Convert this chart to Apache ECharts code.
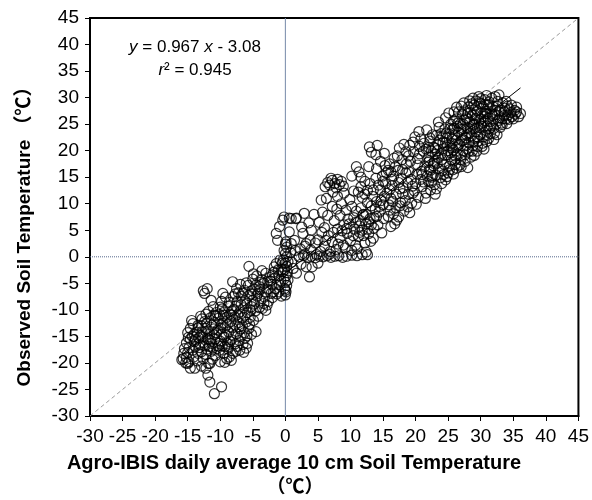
<!DOCTYPE html>
<html>
<head>
<meta charset="utf-8">
<script src="https://cdn.jsdelivr.net/npm/echarts@6/dist/echarts.min.js"></script>
<style>html,body{margin:0;padding:0;background:#fff;}#chart{width:592px;height:500px;}</style>
</head>
<body>
<div id="chart"></div>
<script>
// ---- data ----
const xTitle = 'Agro-IBIS daily average 10 cm Soil Temperature';
const unitText = '（℃）';
const yTitle = 'Observed Soil Temperature （℃）';
const slope = 0.967;
const intercept = -3.08;
const r2 = 0.945;
const axisMin = -30, axisMax = 45, axisStep = 5;

const lowLeftCluster = [
[-15.2,-19.0],[-14.8,-19.8],[-14.1,-18.9],[-13.5,-19.6],[-12.6,-19.2],[-11.8,-20.1],[-11.2,-19.3],[-8.6,-18.9],[-8.3,-19.5],[-9.0,-19.2],[-15.7,-19.2],[-14.6,-21.0],
[-15.5,-17.3],[-15.0,-18.1],[-14.2,-17.6],[-13.4,-18.2],[-12.9,-17.9],[-12.2,-18.4],[-11.4,-17.8],[-10.7,-18.6],[-10.1,-17.6],[-9.5,-18.2],[-8.8,-17.4],[-8.1,-18.2],[-7.6,-17.8],[-7.0,-17.6],[-6.4,-18.0],[-13.8,-16.9],[-10.3,-16.8],
[-15.2,-16.2],[-14.6,-15.5],[-14.0,-16.0],[-13.3,-15.3],[-12.6,-16.2],[-12.0,-15.4],[-11.3,-16.3],[-10.8,-15.5],[-10.0,-15.9],[-9.4,-15.2],[-8.9,-16.3],[-8.3,-15.6],[-7.7,-16.4],[-7.1,-15.8],[-6.5,-16.5],[-5.8,-16.3],[-6.2,-15.3],[-9.7,-16.8],[-11.7,-16.9],
[-15.0,-14.3],[-14.6,-13.5],[-14.0,-14.6],[-13.4,-13.4],[-12.8,-14.2],[-12.2,-13.5],[-11.6,-14.5],[-11.0,-13.6],[-10.4,-13.8],[-9.8,-14.6],[-9.3,-13.4],[-8.7,-14.2],[-8.1,-13.4],[-7.5,-14.5],[-6.9,-13.6],[-6.3,-14.3],[-5.6,-13.5],[-5.2,-14.6],[-4.5,-14.1],[-13.0,-14.9],[-10.9,-14.7],
[-14.2,-12.6],[-13.4,-12.9],[-12.8,-11.7],[-12.1,-12.5],[-11.5,-11.5],[-10.9,-12.4],[-10.3,-11.6],[-9.6,-12.5],[-9.0,-11.4],[-8.4,-12.2],[-7.8,-11.3],[-7.2,-12.4],[-6.6,-11.5],[-6.0,-12.3],[-5.4,-11.4],[-4.9,-12.0],[-13.0,-11.2],[-9.9,-12.9],
[-11.8,-10.3],[-11.1,-9.4],[-10.6,-10.5],[-10.0,-9.5],[-9.4,-10.4],[-8.8,-9.3],[-8.2,-10.2],[-7.6,-9.3],[-7.0,-10.4],[-6.4,-9.6],[-5.8,-10.5],[-5.2,-9.4],[-4.6,-10.2],[-4.0,-9.6],[-3.5,-9.7],[-3.0,-10.1],[-11.4,-8.2],
[-11.6,-20.1],[-11.9,-22.3],[-11.6,-23.6],[-10.9,-25.8],[-9.8,-24.5],[-13.9,-21.0],[-15.0,-20.1],[-15.9,-19.4],
[-12.7,-15.1],[-12.3,-16.8],[-11.9,-14.0],[-11.5,-15.7],[-11.1,-17.2],[-10.6,-14.3],[-10.2,-16.3],[-9.9,-13.5],[-9.5,-11.0],[-9.1,-14.8],[-8.7,-17.0],[-8.5,-10.8],[-8.0,-14.9],[-7.7,-12.9],[-7.3,-10.9],[-6.9,-15.0],[-6.6,-13.0],[-6.2,-11.0],[-5.9,-14.9],[-5.5,-12.7],[-5.3,-10.1],[-12.9,-13.0],[-13.6,-14.2],[-14.3,-15.0],[-13.1,-16.6],[-14.8,-17.1],[-12.4,-12.2],[-11.3,-12.9],[-10.7,-11.1],[-9.7,-9.8],[-8.9,-12.8],[-7.9,-9.9],[-6.8,-9.0],[-5.9,-8.8],[-4.8,-8.9],[-4.2,-11.2],[-12.2,-10.8],[-11.0,-11.0],[-10.1,-10.9],[-7.1,-13.2],[-8.3,-11.0],[-9.3,-16.9],[-10.5,-17.3],[-12.0,-17.4],[-13.2,-17.1],[-6.0,-17.2],[-7.4,-16.9],[-8.5,-16.0],[-11.8,-15.5],[-13.8,-15.6],[-14.4,-12.0],[-14.9,-15.2],[-15.6,-18.2],[-15.3,-20.0],[-12.9,-20.6],[-10.0,-19.8],[-9.3,-19.9],[-12.2,-21.0]
];

const bandToOrigin = [
[-9.8,-8.4],[-9.2,-7.6],[-8.6,-8.6],[-8.0,-7.5],[-7.4,-8.4],[-6.8,-7.4],[-6.2,-8.3],[-5.6,-7.3],[-5.0,-8.2],[-4.4,-7.4],[-3.8,-8.3],[-3.2,-7.6],[-2.6,-8.4],[-2.0,-7.7],[-9.6,-6.9],[-12.4,-6.9],[-12.0,-6.0],[-12.6,-6.4],
[-8.1,-4.7],[-7.5,-6.0],[-6.9,-5.2],[-6.3,-6.3],[-5.7,-5.4],[-5.1,-6.4],[-4.5,-5.3],[-3.9,-6.2],[-3.3,-5.0],[-2.7,-6.1],[-2.1,-5.2],[-1.5,-6.0],[-0.9,-5.3],[-7.2,-6.8],[-4.2,-6.9],[-1.8,-6.6],
[-5.0,-4.2],[-4.4,-3.6],[-3.6,-4.3],[-3.0,-3.1],[-2.4,-3.9],[-1.8,-2.9],[-1.4,-1.3],[-1.0,-3.6],[-0.6,-2.4],[-2.7,-4.6],[-5.6,-1.8],[-3.6,-2.6],
[-7.7,-7.0],[-6.5,-6.8],[-5.3,-7.0],[-4.0,-5.6],[-3.0,-6.6],[-2.3,-4.6],[-1.6,-4.0],[-1.1,-2.5],[-0.7,-4.6],[-0.5,-1.2],[-1.3,-7.0],[-2.8,-9.1],[-4.7,-6.1],[-6.0,-4.9],[-3.3,-8.8],[-2.2,-6.9],[-1.0,-6.6],[-0.6,-7.4],[-4.9,-3.2],[-3.9,-4.8],[-2.0,-3.4],[-1.7,-1.9],[-0.8,-0.6]
];

const zeroColumn = [
[0,-7.2],[0.1,-6.6],[-0.1,-6.0],[0.2,-5.4],[0,-4.8],[-0.2,-4.2],[0.1,-3.6],[0.3,-3.0],[-0.1,-2.4],[0.2,-1.8],[0,-1.2],[-0.3,-0.6],[0.2,0],[0,0.6],[-0.2,1.2],[0.2,1.8],[0,2.4],[0.4,-0.9],[-0.4,-2.8],[0.4,-4.4],[0,-6.3],
[-1.4,4.4],[-0.9,5.7],[-0.4,6.9],[-0.2,7.5],[0.9,7.2],[1.6,7.2],[-1.2,3.1],[0.1,2.8],[1.4,3.1],[0.9,2.5],[2.7,4.4],[3.2,2.5],[0.6,4.7],[0.6,7.3],[1.7,7.3],[2.9,8.2],
[1.0,-1.0],[1.7,-3.1],[1.2,-2.2],[0.8,0.8],[1.5,1.2]
];

const zeroRow = [
[2.1,0],[2.8,0.2],[3.4,-0.1],[4.0,0.1],[4.6,-0.2],[5.2,0.1],[5.8,0],[6.4,0.2],[7.0,-0.1],[7.6,0.1],[8.2,0.2],[8.8,-0.1],[9.4,0.1],[10.2,0.3],[11.0,0.2],[11.8,0.4],[12.6,0.4],[3.0,0.5],[4.8,0.4],[6.8,0.5],
[3.2,-1.9],[4.1,-1.9],[3.7,-3.8],[2.4,-1.4],[5.0,-1.2]
];

const lowMiddle = [
[5.2,6.5],[4.0,5.0],[5.0,3.2],[6.0,2.0],[6.6,4.0],[7.2,2.8],[7.8,1.4],[8.4,3.6],[8.9,2.2],[9.5,4.4],[10.0,3.0],[10.6,5.2],[11.2,3.8],[11.8,5.0],[12.4,6.2],[11.5,6.8],[10.5,7.4],[9.3,8.8],[9.0,6.0],[8.0,5.2],[7.5,6.8],[6.5,7.8],[12.2,2.6],[11.0,1.5],[10.2,1.2],[12.8,4.4],[13.2,6.0],[12.4,8.0],[11.6,9.2],[10.2,9.5],[8.6,10.0],[7.2,9.5],[13.5,3.5],[12.4,0.9],[6.0,5.5],[3.6,6.4],[4.4,8.0],
[2.3,1.5],[3.0,2.0],[3.9,1.3],[4.6,2.6],[5.4,1.0],[5.6,4.6],[6.2,3.1],[6.9,1.0],[7.4,4.6],[8.1,2.4],[8.7,4.9],[9.2,1.7],[9.8,6.2],[10.4,4.0],[10.8,2.2],[11.4,5.8],[12.0,4.0],[12.6,5.2],[13.1,2.9],[13.6,7.4],[11.9,7.9],[10.9,8.6],[9.6,7.1],[8.4,7.8],[7.9,9.0],[9.9,10.8],[10.5,12.4],[11.6,13.2],[3.8,3.2],[2.5,5.6],[5.7,8.4],[8.0,11.4],[9.0,12.0],[12.2,11.8],[13.2,9.6],[14.0,10.4],
[14.0,7.6],[12.8,6.6],[11.4,4.6],[10.8,6.5],[9.4,5.3]
];

const midCluster = [
[6.8,13.5],[7.2,14.4],[7.6,13.8],[8.0,14.6],[8.3,13.6],[7.0,14.8],[6.5,14.0],[8.6,14.2],[7.8,13.0],[6.1,13.2],[8.9,13.3],[5.5,10.7],[6.3,11.0],[7.3,12.2],
[10.9,17.0],[11.3,16.0],[11.6,15.0],[12.9,20.7],[14.1,21.0],[13.2,19.7],[13.9,19.2],[15.2,19.5],[12.6,12.5],[13.9,14.8],[14.6,18.0],[10.2,15.2]
];

const middleBand = [
[12.0,8.0],[12.6,10.2],[13.0,7.2],[13.4,11.4],[13.8,9.0],[14.2,6.0],[14.6,12.6],[14.8,4.5],[15.0,9.8],[15.4,13.8],[15.8,7.6],[16.2,11.0],[16.6,15.2],[17.0,9.2],[17.4,7.5],[17.6,12.8],[18.0,16.4],[18.4,10.6],[18.8,14.0],[19.2,18.0],[19.4,10.1],[19.8,12.4],[20.2,15.6],[20.6,19.4],[21.0,13.2],[21.4,17.0],[21.6,12.0],[22.0,20.6],[16.0,17.5],[17.2,19.0],[18.5,19.8],[15.5,15.8],[14.0,16.6],[13.0,13.8],[12.2,14.2],[19.6,21.6],[20.8,22.2],[16.4,13.4],[17.8,14.8],[18.2,8.6],[15.2,11.4],[14.4,8.4],[13.6,5.4],[16.8,6.2],[19.0,16.0],[20.4,11.2],[21.8,15.2],[22.4,14.0],[22.8,17.6],[23.2,12.8],[20.5,23.6],[21.7,23.9],[12.8,17.0],[11.8,11.2],[11.2,12.2],
[14.3,13.5],[14.7,10.6],[15.1,7.2],[15.6,12.0],[15.9,9.8],[16.3,14.6],[16.6,8.1],[17.0,11.8],[17.3,16.3],[17.7,10.2],[18.1,13.0],[18.6,17.5],[18.9,11.8],[19.3,14.6],[19.7,19.8],[20.0,13.8],[20.3,17.3],[20.8,14.6],[21.2,19.9],[21.5,11.0],[21.9,17.8],[22.2,22.4],[20.6,20.8],[19.1,21.0],[17.9,18.3],[16.9,17.0],[15.8,16.3],[14.9,15.2],[18.5,15.8],[20.9,16.1],[19.6,12.0],[17.4,14.0],[16.0,12.6],[22.6,15.3],[23.0,11.8],[22.3,12.6],[21.2,14.1],[20.1,9.9],[18.8,9.4],[17.1,6.9],[16.2,5.7],
[15.3,17.2],[16.7,18.6],[18.2,21.2],[19.9,22.6],[21.3,21.4],[22.0,18.8],[17.5,20.5],[16.2,16.0],[18.9,19.0],[20.3,18.5],[21.6,20.3],[15.0,14.2],[13.5,12.6],[14.5,9.5],[16.5,10.4],[18.0,11.9],[19.5,13.3],[21.0,15.5],[22.1,16.4],[17.6,9.6],[19.1,8.3],[16.1,8.8]
];

const upperRight = [
[22.0,14.2],[22.3,16.3],[22.1,18.1],[22.4,19.9],[22.2,21.8],[22.6,23.0],
[22.9,13.6],[23.1,15.4],[23.3,17.6],[23.0,19.3],[23.4,21.2],[23.2,22.9],[23.6,24.4],
[23.8,14.9],[24.1,16.2],[24.0,18.3],[24.3,20.4],[24.2,22.6],[24.5,24.1],[24.6,14.5],[24.8,15.1],
[25.0,15.8],[25.2,17.1],[24.9,19.2],[25.3,21.0],[25.1,23.1],[25.4,25.0],[25.1,27.1],[25.9,27.3],
[25.7,16.4],[26.0,18.2],[25.8,20.1],[26.2,22.0],[25.9,24.2],[26.3,26.0],[26.3,16.7],
[26.8,17.3],[27.0,19.1],[26.7,21.2],[27.1,23.0],[26.9,25.1],[27.2,26.9],[27.0,28.4],
[27.6,18.0],[27.9,20.3],[27.7,22.4],[28.0,24.3],[27.8,26.2],[28.1,28.2],[28.3,29.4],
[28.5,18.8],[28.8,20.9],[28.6,22.8],[28.9,24.8],[28.7,26.7],[29.0,28.6],[29.7,30.2],
[29.4,19.9],[29.6,21.8],[29.3,23.6],[29.7,25.7],[29.5,27.5],[29.8,29.0],
[30.2,20.8],[30.4,22.6],[30.1,24.6],[30.5,26.4],[30.3,28.3],[30.6,29.6],[30.9,21.7],
[31.2,22.3],[31.4,24.2],[31.1,26.1],[31.5,27.9],[31.3,29.2],[31.7,29.9],
[32.1,23.3],[32.4,25.0],[32.2,26.8],[32.5,28.4],[32.2,30.2],[32.8,30.5],[32.5,23.0],
[33.0,24.4],[33.3,26.0],[33.1,27.6],[33.4,29.0],
[34.0,25.1],[34.2,26.7],[34.1,28.4],[34.6,27.2],
[35.0,26.0],[35.2,27.6],[35.5,27.3],[36.1,27.0],[35.8,26.4],[35.5,28.2]
];

const upperDense = [
[22.7,17.2],[22.8,20.6],[23.5,18.6],[23.7,22.0],[24.4,17.4],[24.6,21.5],[24.7,23.3],[25.5,18.3],[25.6,20.5],[25.6,22.2],[25.7,24.0],[26.4,19.4],[26.5,21.0],[26.6,23.5],[26.5,25.2],[27.3,20.0],[27.4,22.0],[27.4,24.1],[27.5,25.8],[27.5,27.5],[28.2,21.5],[28.3,23.3],[28.3,25.4],[28.4,27.2],[29.1,22.3],[29.1,24.2],[29.2,26.0],[29.2,27.9],[29.9,23.0],[30.0,25.0],[30.0,27.0],[30.0,28.8],[30.8,23.8],[30.7,25.6],[30.8,27.4],[30.9,28.7],[31.6,24.7],[31.8,26.6],[31.9,28.3],[32.7,25.7],[32.8,27.3],[33.6,26.6],[33.7,28.0],[26.1,19.0],[28.7,19.9],[31.0,22.9],[24.0,19.5],[23.0,20.5],[25.0,20.0],[27.0,24.0],[29.0,25.0],[31.0,27.0],[26.0,23.0],[28.0,26.0],[30.0,26.0],[27.8,21.0],[25.3,24.2],[24.2,21.5],[33.2,25.2],[34.4,27.9],[29.5,20.8],[31.5,25.5],
[22.5,15.0],[22.9,18.0],[23.3,20.0],[23.5,16.6],[23.9,23.2],[24.3,15.5],[24.5,19.1],[24.8,22.4],[25.2,16.4],[25.4,19.6],[25.6,21.4],[25.8,25.6],[26.1,17.4],[26.2,20.6],[26.4,24.6],[26.6,27.3],[26.9,18.3],[27.1,21.9],[27.3,25.0],[27.6,19.2],[27.8,23.0],[28.0,27.0],[28.2,19.9],[28.4,24.1],[28.6,28.8],[28.9,21.8],[29.1,26.7],[29.3,29.4],[29.5,22.6],[29.8,24.4],[30.0,29.8],[30.3,21.4],[30.5,25.3],[30.7,27.0],[31.0,24.6],[31.2,28.6],[31.5,23.2],[31.7,26.9],[32.0,24.2],[32.3,27.6],[32.6,29.3],[32.9,26.2],[33.3,24.9],[33.6,27.3],[33.9,26.0],[34.3,25.9],[34.8,26.4],[35.3,26.9],[34.7,28.6],[27.0,17.0],[29.0,19.1],[28.0,16.8],[30.5,20.3],[32.0,22.1],[24.0,13.8],[25.8,15.6],[23.5,25.4],[24.6,26.2],[26.3,28.2],[27.4,29.0],[28.8,29.9],[30.9,30.4],[33.9,29.3]
];

// ---- build ----
const points = [].concat(lowLeftCluster, bandToOrigin, zeroColumn, zeroRow, lowMiddle, midCluster, middleBand, upperRight, upperDense);
const xs = points.map(p => p[0]);
const xLo = Math.min.apply(null, xs), xHi = Math.max.apply(null, xs);
const fitLine = [[xLo, slope * xLo + intercept], [xHi, slope * xHi + intercept]];

const FONT = '"Liberation Sans", Arial, "Noto Sans CJK SC", sans-serif';
const chart = echarts.init(document.getElementById('chart'), null, {renderer: 'canvas'});

const axisCommon = {
  type: 'value', min: axisMin, max: axisMax, interval: axisStep,
  axisLine: {show: true, onZero: false, lineStyle: {color: '#000', width: 2}},
  axisTick: {show: true, inside: false, length: 5, lineStyle: {color: '#000', width: 1}},
  splitLine: {show: false},
  axisLabel: {color: '#000', fontSize: 19, fontFamily: FONT, margin: 11}
};

chart.setOption({
  animation: false,
  backgroundColor: '#fff',
  grid: {left: 90, right: 12, top: 18, bottom: 84, show: true, borderColor: '#000', borderWidth: 2, backgroundColor: 'transparent'},
  xAxis: axisCommon,
  yAxis: Object.assign({}, axisCommon),
  series: [
    {type: 'line', data: [[0, axisMin], [0, axisMax]], symbol: 'none', silent: true, z: 1,
     lineStyle: {color: '#7689a8', width: 1}},
    {type: 'line', data: [[axisMin, 0], [axisMax, 0]], symbol: 'none', silent: true, z: 1,
     lineStyle: {color: '#56698a', width: 1, type: [1, 1]}},
    {type: 'line', data: [[axisMin, axisMin], [axisMax, axisMax]], symbol: 'none', silent: true, z: 1,
     lineStyle: {color: '#999', width: 1, type: [4, 3]}},
    {type: 'scatter', data: points, symbol: 'circle', symbolSize: 10, z: 2,
     itemStyle: {color: 'rgba(0,0,0,0)', borderColor: '#000', borderWidth: 1.2}},
    {type: 'line', data: fitLine, symbol: 'none', silent: true, z: 3,
     lineStyle: {color: '#000', width: 1}}
  ],
  graphic: [
    {type: 'text', x: 195, y: 47, style: {text: '{i|y} = ' + slope.toFixed(3) + ' {i|x} - ' + Math.abs(intercept).toFixed(2),
      font: '17px ' + FONT, fill: '#000', textAlign: 'center', textVerticalAlign: 'middle',
      rich: {i: {fontStyle: 'italic', fontSize: 17, fontFamily: FONT, fill: '#000'}}}},
    {type: 'text', x: 195, y: 70, style: {text: '{i|r}² = ' + r2.toFixed(3),
      font: '17px ' + FONT, fill: '#000', textAlign: 'center', textVerticalAlign: 'middle',
      rich: {i: {fontStyle: 'italic', fontSize: 17, fontFamily: FONT, fill: '#000'}}}},
    {type: 'text', x: 294, y: 463, style: {text: xTitle, font: 'bold 20px ' + FONT, fill: '#000', textAlign: 'center', textVerticalAlign: 'middle'}},
    {type: 'text', x: 295, y: 488, style: {text: unitText, font: 'bold 19px ' + FONT, fill: '#000', textAlign: 'center', textVerticalAlign: 'middle'}},
    {type: 'text', x: 25, y: 232, rotation: Math.PI / 2, style: {text: yTitle, font: 'bold 19px ' + FONT, fill: '#000', textAlign: 'center', textVerticalAlign: 'middle'}}
  ]
});
</script>
</body>
</html>
